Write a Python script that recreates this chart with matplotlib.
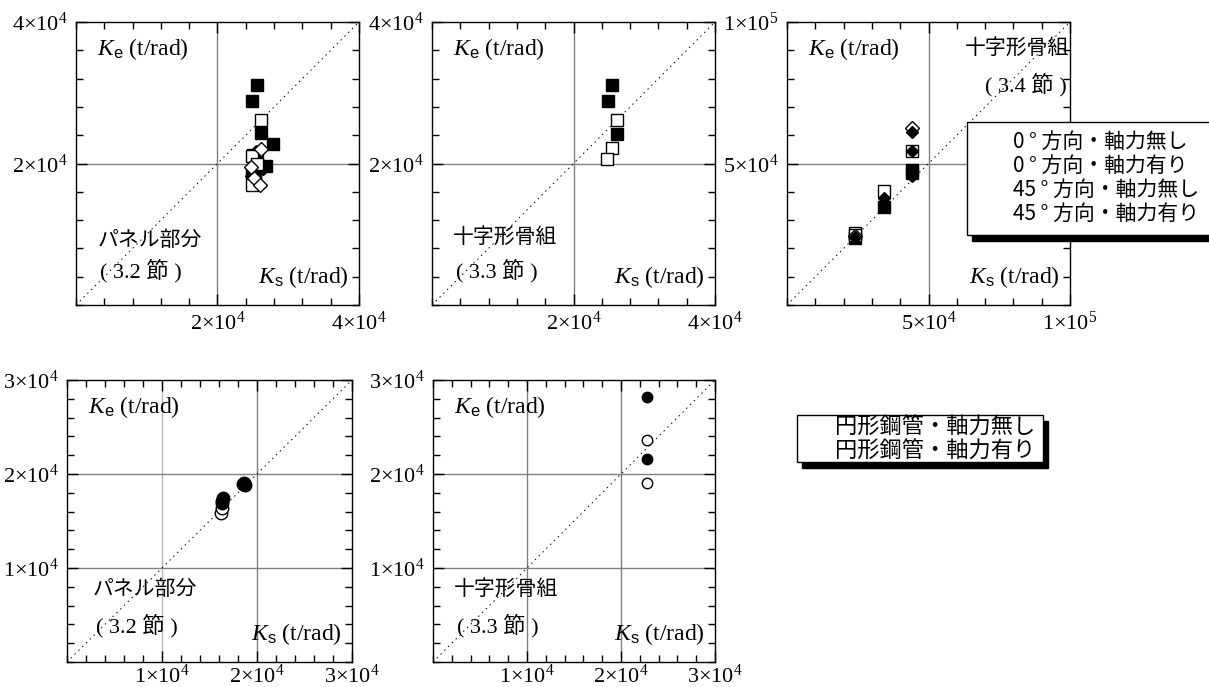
import matplotlib
matplotlib.use('Agg')
import matplotlib.pyplot as plt
from matplotlib.ticker import MultipleLocator
from matplotlib.patches import Rectangle

plt.rcParams['mathtext.fontset'] = 'custom'
plt.rcParams['mathtext.rm'] = 'Liberation Serif'
plt.rcParams['mathtext.it'] = 'Liberation Serif:italic'
plt.rcParams['mathtext.sf'] = 'Liberation Sans'
plt.rcParams['font.family'] = ['Liberation Serif', 'Noto Sans CJK JP']

# --- data (Ks, Ke) ---
# panel 1: panel zone (3.2)
p1_fsq_ks = [25600, 24900, 26200, 27800, 25000, 25600, 25300, 26800, 24900, 25300]
p1_fsq_ke = [31100, 28900, 24300, 22700, 21200, 20600, 19700, 19600, 18700, 18000]
p1_osq_ks = [26200, 24900, 25300, 24900, 25600]
p1_osq_ke = [26200, 21000, 17400, 16900, 20000]
p1_fdm_ks = [25500, 26500, 24900]
p1_fdm_ke = [21600, 19300, 18200]
p1_odm_ks = [26200, 25200, 26000, 24800]
p1_odm_ke = [22000, 17900, 16900, 19500]

# panel 2: cruciform frame (3.3)
p2_fsq_ks = [25500, 24900, 26100]
p2_fsq_ke = [31100, 28800, 24100]
p2_osq_ks = [26100, 25500, 24800]
p2_osq_ke = [26100, 22200, 20700]

# panel 3: cruciform frame (3.4)
p3_osq_ks = [24100, 24100, 34400, 44300]
p3_osq_ke = [25600, 24900, 40200, 54400]
p3_fsq_ks = [24100, 34400, 44300, 44300]
p3_fsq_ke = [23600, 34700, 47800, 46500]
p3_odm_ks = [44300, 24100]
p3_odm_ke = [62500, 24500]
p3_fdm_ks = [44300, 44300, 34400, 24100, 44300]
p3_fdm_ke = [61000, 54400, 37800, 24000, 45500]

# panel 4: circular tube, panel zone (3.2)
p4_fci_ks = [16400, 16300, 16350, 18600, 18700]
p4_fci_ke = [17400, 17100, 16900, 19000, 18800]
p4_oci_ks = [16250, 16300, 18500]
p4_oci_ke = [15800, 16400, 18900]

# panel 5: circular tube, cruciform frame (3.3)
p5_fci_ks = [22800, 22800]
p5_fci_ke = [28200, 21600]
p5_oci_ks = [22800, 22800]
p5_oci_ke = [23600, 19000]

legend1 = ['0 ° 方向・軸力無し', '0 ° 方向・軸力有り', '45 ° 方向・軸力無し', '45 ° 方向・軸力有り']
legend2 = ['円形鋼管・軸力無し', '円形鋼管・軸力有り']

W, H = 1209, 687
fig = plt.figure(figsize=(W / 100, H / 100), dpi=100)

JP = ['Noto Sans CJK JP', 'DejaVu Sans']
SERIF_JP = ['Liberation Serif', 'Noto Sans CJK JP']


def make_axes(x0, y0, x1, y1):
    return fig.add_axes([x0 / W, 1 - y1 / H, (x1 - x0) / W, (y1 - y0) / H])


def sci(v):
    e = 0
    while v >= 10:
        v /= 10
        e += 1
    return r'$%d{\times}10^{%d}$' % (round(v), e)


def setup(ax, lim, majors, minor, xpad=5, light=()):
    ax.set_xlim(0, lim)
    ax.set_ylim(0, lim)
    ax.set_xticks(majors)
    ax.set_yticks(majors)
    ax.set_xticklabels([sci(v) for v in majors])
    ax.set_yticklabels([sci(v) for v in majors])
    ax.xaxis.set_minor_locator(MultipleLocator(minor))
    ax.yaxis.set_minor_locator(MultipleLocator(minor))
    ax.tick_params(which='both', direction='in', top=True, right=True,
                   labelsize=16, width=1)
    ax.tick_params(which='major', length=8)
    ax.tick_params(axis='x', which='major', pad=xpad)
    ax.tick_params(axis='y', which='major', pad=6)
    ax.tick_params(which='minor', length=5)
    for v in majors[:-1]:
        c = '#b8b8b8' if v in light else '#808080'
        ax.axvline(v, color=c, lw=1, zorder=0)
        ax.axhline(v, color='#808080', lw=1, zorder=0)
    ax.plot([0, lim], [0, lim], color='k', lw=0.7, ls=(0, (1.5, 4)), zorder=1)
    for s in ax.spines.values():
        s.set_linewidth(1)
    ax.text(0.075, 0.905, r'$K_{\mathsf{e}}$ (t/rad)', transform=ax.transAxes,
            fontsize=17, va='center', family='Liberation Serif')
    ax.text(0.965, 0.1, r'$K_{\mathsf{s}}$ (t/rad)', transform=ax.transAxes,
            fontsize=17, va='center', ha='right', family='Liberation Serif')


def mark(ax, ks, ke, m, filled, ms):
    ax.plot(ks, ke, ls='none', marker=m, ms=ms, mec='k', mew=1,
            mfc='k' if filled else 'white', zorder=3)


# panel 1
ax1 = make_axes(76, 22, 359, 305)
setup(ax1, 40000, [20000, 40000], 4000)
mark(ax1, p1_fsq_ks, p1_fsq_ke, 's', True, 9)
mark(ax1, p1_fdm_ks, p1_fdm_ke, 'D', True, 7)
mark(ax1, p1_osq_ks, p1_osq_ke, 's', False, 9)
mark(ax1, p1_odm_ks, p1_odm_ke, 'D', False, 7)
ax1.text(0.075, 0.23, 'パネル部分', transform=ax1.transAxes, fontsize=15, family=JP, va='center')
ax1.text(0.085, 0.12, '( 3.2 節 )', transform=ax1.transAxes, fontsize=16, family=SERIF_JP, va='center')

# panel 2
ax2 = make_axes(432, 22, 715, 305)
setup(ax2, 40000, [20000, 40000], 4000)
mark(ax2, p2_fsq_ks, p2_fsq_ke, 's', True, 9)
mark(ax2, p2_osq_ks, p2_osq_ke, 's', False, 9)
ax2.text(0.075, 0.24, '十字形骨組', transform=ax2.transAxes, fontsize=15, family=JP, va='center')
ax2.text(0.085, 0.12, '( 3.3 節 )', transform=ax2.transAxes, fontsize=16, family=SERIF_JP, va='center')

# panel 3
ax3 = make_axes(787, 22, 1070, 305)
setup(ax3, 100000, [50000, 100000], 10000)
mark(ax3, p3_fsq_ks, p3_fsq_ke, 's', True, 9)
mark(ax3, p3_osq_ks, p3_osq_ke, 's', False, 9)
mark(ax3, p3_odm_ks, p3_odm_ke, 'D', False, 7)
mark(ax3, p3_fdm_ks, p3_fdm_ke, 'D', True, 6)
ax3.text(0.63, 0.91, '十字形骨組', transform=ax3.transAxes, fontsize=15, family=JP, va='center')
ax3.text(0.70, 0.78, '( 3.4 節 )', transform=ax3.transAxes, fontsize=16, family=SERIF_JP, va='center')

# panel 4
ax4 = make_axes(67, 380, 352, 662)
setup(ax4, 30000, [10000, 20000, 30000], 2000, xpad=2, light=(10000,))
mark(ax4, p4_oci_ks, p4_oci_ke, 'o', False, 9)
mark(ax4, p4_fci_ks, p4_fci_ke, 'o', True, 9)
ax4.text(0.09, 0.26, 'パネル部分', transform=ax4.transAxes, fontsize=15, family=JP, va='center')
ax4.text(0.10, 0.13, '( 3.2 節 )', transform=ax4.transAxes, fontsize=16, family=SERIF_JP, va='center')

# panel 5
ax5 = make_axes(433, 380, 715, 662)
setup(ax5, 30000, [10000, 20000, 30000], 2000, xpad=2)
mark(ax5, p5_fci_ks, p5_fci_ke, 'o', True, 7.5)
mark(ax5, p5_oci_ks, p5_oci_ke, 'o', False, 7.5)
ax5.text(0.075, 0.26, '十字形骨組', transform=ax5.transAxes, fontsize=15, family=JP, va='center')
ax5.text(0.085, 0.13, '( 3.3 節 )', transform=ax5.transAxes, fontsize=16, family=SERIF_JP, va='center')


def legend_box(x0, y0, x1, y1, lines, tx, ty0, dy, fs):
    fig.add_artist(Rectangle(((x0 + 5) / W, 1 - (y1 + 6) / H), (x1 - x0) / W, (y1 - y0) / H,
                             transform=fig.transFigure, facecolor='k', edgecolor='k', zorder=5))
    fig.add_artist(Rectangle((x0 / W, 1 - y1 / H), (x1 - x0) / W, (y1 - y0) / H,
                             transform=fig.transFigure, facecolor='white', edgecolor='k',
                             lw=1, zorder=6))
    for i, s in enumerate(lines):
        fig.text(tx / W, 1 - (ty0 + i * dy) / H, s, fontsize=fs, family=JP,
                 va='center', ha='left', zorder=7)


legend_box(967, 122, 1215, 235, legend1, 1013, 142, 24, 15)
legend_box(797, 415, 1043, 462, legend2, 835, 427, 24, 16)

fig.savefig('out.png', dpi=100)
